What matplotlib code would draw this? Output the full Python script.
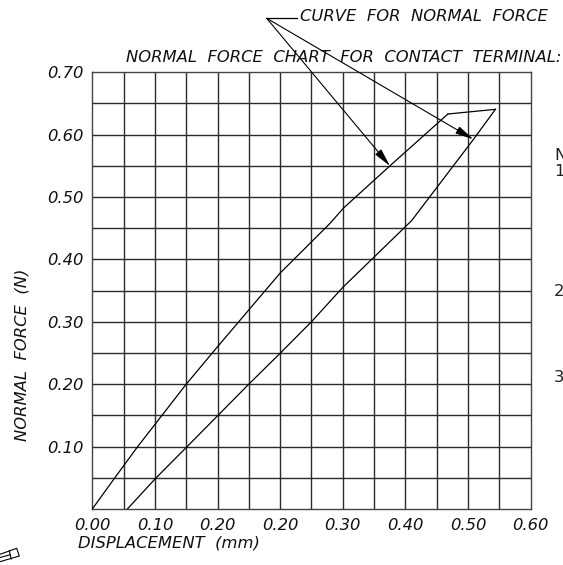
import matplotlib
matplotlib.use("Agg")
import matplotlib.pyplot as plt
from matplotlib.patches import FancyArrowPatch
from matplotlib.lines import Line2D
import numpy as np

# ---- data (grid coordinates: x in 0.05 steps per column, y in N) ----
x_tick_pos = [0.0, 0.1, 0.2, 0.3, 0.4, 0.5, 0.6, 0.7]
x_tick_labels = ["0.00", "0.10", "0.20", "0.20", "0.30", "0.40", "0.50", "0.60"]
y_tick_pos = [0.1, 0.2, 0.3, 0.4, 0.5, 0.6, 0.7]
y_tick_labels = ["0.10", "0.20", "0.30", "0.40", "0.50", "0.60", "0.70"]

# loading curve (left branch), then top segment, then unloading (right branch)
left_x = [0.0, 0.036, 0.0725, 0.150, 0.200, 0.250, 0.300, 0.350, 0.380, 0.401, 0.4755, 0.568]
left_y = [0.0, 0.050, 0.100, 0.200, 0.260, 0.319, 0.378, 0.428, 0.458, 0.482, 0.550, 0.633]
tip_x = [0.568, 0.644]
tip_y = [0.633, 0.6405]
right_x = [0.644, 0.609, 0.510, 0.400, 0.350, 0.300, 0.250, 0.152, 0.102, 0.056]
right_y = [0.6405, 0.5925, 0.462, 0.355, 0.300, 0.2495, 0.200, 0.1005, 0.050, 0.0]

W, H = 563, 565
fig = plt.figure(figsize=(W / 100, H / 100), dpi=100)
fig.patch.set_facecolor("white")

def fx(px):
    return px / W

def fy(py):
    return 1 - py / H

ax_l, ax_r, ax_t, ax_b = 92.3, 530.5, 72.2, 509.0
ax = fig.add_axes([fx(ax_l), fy(ax_b), (ax_r - ax_l) / W, (ax_b - ax_t) / H])
ax.set_xlim(0, 0.7)
ax.set_ylim(0, 0.7)

grid_color = "#2b2b2b"
for v in np.arange(0.05, 0.70, 0.05):
    ax.axvline(v, color=grid_color, lw=1.0, zorder=1)
    ax.axhline(v, color=grid_color, lw=1.0, zorder=1)
for s in ax.spines.values():
    s.set_color("#444444")
    s.set_linewidth(1.0)

line_kw = dict(color="black", lw=0.9, zorder=3, solid_joinstyle="miter")
ax.plot(left_x, left_y, **line_kw)
ax.plot(tip_x, tip_y, **line_kw)
ax.plot(right_x, right_y, **line_kw)

fkw = dict(family="DejaVu Sans", style="oblique", fontsize=11.8, color="#111111")

ax.set_xticks(x_tick_pos)
ax.set_xticklabels(x_tick_labels, **fkw)
ax.set_yticks(y_tick_pos)
ax.set_yticklabels(y_tick_labels, **fkw)
ax.tick_params(axis="both", length=0)
ax.tick_params(axis="x", pad=6.3)
ax.tick_params(axis="y", pad=6)

# axis labels and titles (figure pixel positions)
fig.text(fx(78), fy(543.5), "DISPLACEMENT  (mm)", ha="left", va="center", **fkw)
fig.text(fx(22.5), fy(355), "NORMAL  FORCE  (N)", ha="center", va="center",
         rotation=90, **fkw)
fig.text(fx(126), fy(57.5), "NORMAL  FORCE  CHART  FOR  CONTACT  TERMINAL:",
         ha="left", va="center", **fkw)
fig.text(fx(300), fy(16.5), "CURVE  FOR  NORMAL  FORCE", ha="left", va="center", **fkw)

# cut-off notes at right edge
for ch, py in [("N", 155), ("1", 171.7), ("2", 292), ("3", 377)]:
    fig.text(fx(554), fy(py), ch, ha="left", va="center",
             family="DejaVu Sans", fontsize=11.8, color="#222222")

# leader lines with arrows
origin = (0.2786, 0.7864)
fig.add_artist(Line2D([fx(266.7), fx(296.7)], [fy(18.3), fy(18.3)],
                      color="black", lw=0.9))
for tip in [(0.4755, 0.5497), (0.6086, 0.5925)]:
    arr = FancyArrowPatch(origin, tip, transform=ax.transData,
                          arrowstyle="-|>,head_length=0.55,head_width=0.12",
                          mutation_scale=20, color="black", lw=0.8,
                          shrinkA=0, shrinkB=0, clip_on=False, zorder=5)
    ax.add_artist(arr)

# small clipped symbol at bottom-left
pts = [(0, 554.3), (16.7, 548.3), (19.3, 556), (0, 561.7)]
fig.add_artist(Line2D([fx(p[0]) for p in pts], [fy(p[1]) for p in pts],
                      color="black", lw=0.8))
fig.add_artist(Line2D([fx(9.3), fx(11.2)], [fy(551), fy(559)], color="black", lw=0.8))
fig.add_artist(Line2D([fx(0), fx(10.2)], [fy(557.5), fy(554.8)], color="black", lw=0.8))

fig.savefig("out.png", dpi=100, facecolor="white")
